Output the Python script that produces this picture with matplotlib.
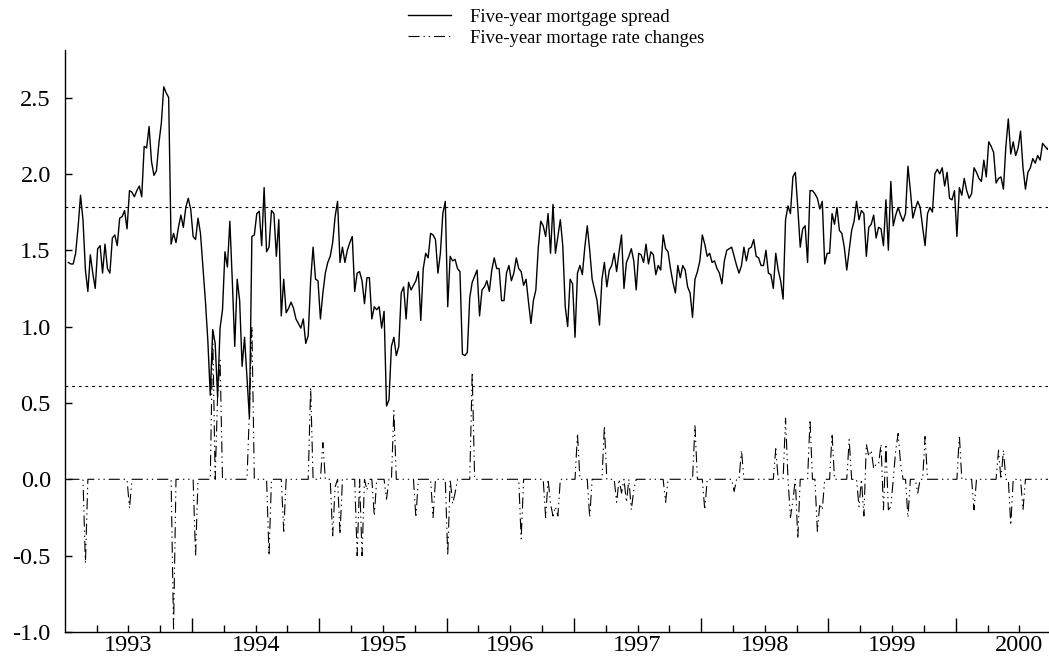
import numpy as np
import matplotlib
matplotlib.use("Agg")
import matplotlib.pyplot as plt
from matplotlib.ticker import FixedLocator, FuncFormatter

plt.rcParams["font.family"] = ["Liberation Serif", "DejaVu Serif"]
plt.rcParams["axes.unicode_minus"] = False

# weekly observations, first week of January 1993
start_year = 1993.028
week = 1.0 / 52.0

spread = [
    # 1993 - early 1994
    1.42, 1.41, 1.41, 1.48, 1.65, 1.86, 1.70, 1.37, 1.23, 1.47, 1.35,
    1.25, 1.51, 1.53, 1.35, 1.54, 1.38, 1.35, 1.58, 1.60, 1.53,
    1.71, 1.72, 1.76, 1.64, 1.89, 1.88, 1.85, 1.89, 1.92, 1.85,
    2.18, 2.17, 2.31, 2.08, 1.99, 2.02, 2.20, 2.33, 2.57, 2.53,
    2.50, 1.54, 1.61, 1.55, 1.65, 1.73, 1.65, 1.78, 1.84, 1.77,
    1.59, 1.57, 1.71, 1.61, 1.39, 1.17, 0.91, 0.55, 0.98, 0.89,
    0.54, 0.99, 1.11, 1.49, 1.39,
    # 1994
    1.69, 1.30, 0.87, 1.31, 1.17, 0.74, 0.93, 0.67, 0.40, 1.59,
    1.60, 1.74, 1.755, 1.53, 1.91, 1.49, 1.52, 1.76, 1.74, 1.46,
    1.70, 1.07, 1.31, 1.09, 1.12, 1.16, 1.12, 1.05, 1.02, 0.99,
    1.05, 0.89, 0.94, 1.30, 1.52, 1.31, 1.30, 1.05, 1.22, 1.35,
    1.42, 1.46, 1.55, 1.72, 1.82, 1.42, 1.52, 1.42, 1.50, 1.55,
    1.59, 1.23, 1.35, 1.36, 1.30, 1.15, 1.32, 1.32, 1.05, 1.13,
    1.11, 1.13, 0.99, 1.10, 0.48, 0.52,
    # 1995
    0.87, 0.93, 0.81, 0.87, 1.22, 1.26, 1.05, 1.29, 1.24, 1.27,
    1.30, 1.36, 1.04, 1.38, 1.48, 1.45, 1.61, 1.60, 1.57, 1.35,
    1.48, 1.74, 1.82, 1.13, 1.46, 1.43, 1.44, 1.38, 1.36, 0.82,
    0.81, 0.83, 1.19, 1.29, 1.33, 1.37, 1.07, 1.24, 1.26, 1.30,
    1.23, 1.37, 1.45, 1.38, 1.38, 1.17, 1.17, 1.35, 1.40, 1.30,
    1.35, 1.45, 1.38, 1.36, 1.27, 1.31, 1.16, 1.02, 1.17, 1.24,
    1.52, 1.69, 1.66, 1.59, 1.74,
    # 1996 - 1997
    1.48, 1.80, 1.48, 1.59, 1.70, 1.53, 1.13, 1.00, 1.31, 1.28,
    0.93, 1.35, 1.40, 1.34, 1.52, 1.66, 1.50, 1.31, 1.24, 1.17,
    1.01, 1.31, 1.42, 1.26, 1.37, 1.40, 1.48, 1.36, 1.49, 1.60,
    1.25, 1.42, 1.46, 1.51, 1.43, 1.24, 1.48, 1.47, 1.42, 1.54,
    1.41, 1.49, 1.47, 1.34, 1.40, 1.37, 1.60, 1.51, 1.49, 1.38,
    1.29, 1.22, 1.40, 1.32, 1.40, 1.37, 1.26, 1.22, 1.06, 1.31,
    1.36, 1.43, 1.60, 1.54, 1.46, 1.48,
    # 1997 - 1998
    1.42, 1.43, 1.38, 1.35, 1.28, 1.43, 1.50, 1.51, 1.52, 1.46,
    1.40, 1.35, 1.40, 1.52, 1.43, 1.51, 1.52, 1.57, 1.46, 1.45,
    1.40, 1.40, 1.50, 1.35, 1.34, 1.25, 1.48, 1.37, 1.30, 1.18,
    1.70, 1.79, 1.74, 1.98, 2.01, 1.78, 1.52, 1.64, 1.66, 1.42,
    1.89, 1.89, 1.87, 1.84, 1.77, 1.82, 1.41, 1.48, 1.48, 1.74,
    1.67, 1.78, 1.63, 1.61, 1.52, 1.37, 1.50, 1.63, 1.69, 1.82,
    1.70, 1.76, 1.74, 1.46, 1.65,
    # 1998 - 2000
    1.67, 1.73, 1.58, 1.65, 1.64, 1.53, 1.83, 1.50, 1.95, 1.66,
    1.73, 1.78, 1.73, 1.69, 1.74, 2.05, 1.89, 1.71, 1.77, 1.82,
    1.78, 1.65, 1.53, 1.74, 1.78, 1.75, 2.00, 2.03, 2.00, 2.04,
    1.92, 2.01, 1.84, 1.83, 1.89, 1.59, 1.91, 1.86, 1.97, 1.89,
    1.84, 1.87, 2.04, 2.01, 1.97, 1.95, 2.09, 1.98, 2.21, 2.18,
    2.14, 1.94, 1.97, 1.98, 1.90, 2.18, 2.36, 2.13, 2.21, 2.12,
    2.17, 2.28, 2.04, 1.90, 2.01, 2.04, 2.10, 2.07, 2.12, 2.09,
    2.20, 2.18, 2.16, 2.19,
]

# weeks (counted from the first observation) with a non-zero rate change
change_weeks = [
    7, 25, 43, 52, 59, 61, 62, 74, 75, 82, 88,
    99, 104, 108, 109, 111, 118, 120, 122, 125, 130, 133,
    142, 149, 155, 157, 158, 165, 185, 195, 197, 198, 199, 200,
    208, 213, 219, 224, 226, 228, 230, 231, 244, 256, 260,
    272, 275, 289, 293, 295, 296, 298, 303, 306, 307, 308,
    312, 319, 323, 325, 326, 327, 328, 329, 330, 331, 332,
    333, 334, 335, 336, 338, 339, 340, 343, 347, 350,
    364, 370, 380, 382, 385, 390,
]
change_values = [
    -0.55, -0.19, -0.98, -0.50, 0.97, 0.55, 0.78, 0.45, 1.00, -0.50, -0.34,
    0.60, 0.24, -0.37, -0.05, -0.36, -0.50, -0.50, -0.07, -0.24, -0.13, 0.45,
    -0.25, -0.25, -0.50, -0.16, -0.09, 0.70, -0.39, -0.25, -0.16, -0.24, -0.18, -0.24,
    0.30, -0.25, 0.35, -0.15, -0.09, -0.15, -0.20, -0.07, -0.15, 0.35, -0.20,
    -0.08, 0.19, 0.20, 0.40, -0.25, -0.14, -0.39, 0.39, -0.34, -0.16, -0.20,
    0.30, 0.26, -0.18, -0.24, 0.23, 0.15, 0.19, 0.07, 0.10, 0.10, 0.23,
    -0.20, 0.23, -0.20, -0.18, 0.19, 0.30, 0.10, -0.25, -0.09, 0.28,
    0.29, -0.20, 0.19, 0.19, -0.30, -0.20,
]

upper_band = 1.78
lower_band = 0.61

years = [1993, 1994, 1995, 1996, 1997, 1998, 1999, 2000]
yticks = [-1.0, -0.5, 0.0, 0.5, 1.0, 1.5, 2.0, 2.5]

n = len(spread)
dates = start_year + week * np.arange(n)
changes = np.zeros(n)
changes[change_weeks] = change_values

fig = plt.figure(figsize=(10.49, 6.60), dpi=100)
ax = fig.add_axes([0.0617, 0.0424, 0.9373, 0.8816])

ax.plot(dates, spread, color="black", linewidth=1.0,
        label="Five-year mortgage spread")
ax.plot(dates, changes, color="black", linewidth=0.8,
        linestyle=(0, (10.0, 3.5, 1.2, 3.5, 1.2, 3.5)),
        label="Five-year mortage rate changes")
for level in (upper_band, lower_band):
    ax.axhline(level, color="black", linewidth=0.8,
               linestyle=(0, (2.5, 3.5)))

ax.set_xlim(1993.0, 2000.724)
ax.set_ylim(-1.0, 2.81)

ax.xaxis.set_major_locator(FixedLocator(years[1:]))
ax.xaxis.set_minor_locator(FixedLocator(
    [y + q for y in years for q in (0.25, 0.5, 0.75)]))
ax.xaxis.set_major_formatter(FuncFormatter(lambda v, p: ""))
ax.xaxis.set_minor_formatter(FuncFormatter(
    lambda v, p: f"{int(v)}" if abs(v % 1 - 0.5) < 1e-6 else ""))
ax.tick_params(axis="x", which="major", direction="in", length=10, width=1)
ax.tick_params(axis="x", which="minor", direction="in", length=5, width=1,
               labelsize=17.5, pad=2)

ax.set_yticks(yticks)
ax.yaxis.set_major_formatter(FuncFormatter(lambda v, p: f"{v:.1f}"))
ax.tick_params(axis="y", direction="in", length=5, width=1,
               labelsize=17.5, pad=10)

ax.spines[["top", "right"]].set_visible(False)
for side in ("left", "bottom"):
    ax.spines[side].set_linewidth(1.0)

fig.legend(loc="center", bbox_to_anchor=(0.530, 0.958), frameon=False,
           fontsize=13.4, handlelength=2.3, handletextpad=1.0,
           labelspacing=0.2, borderpad=0.0)

fig.savefig("out.png", dpi=100, facecolor="white")
